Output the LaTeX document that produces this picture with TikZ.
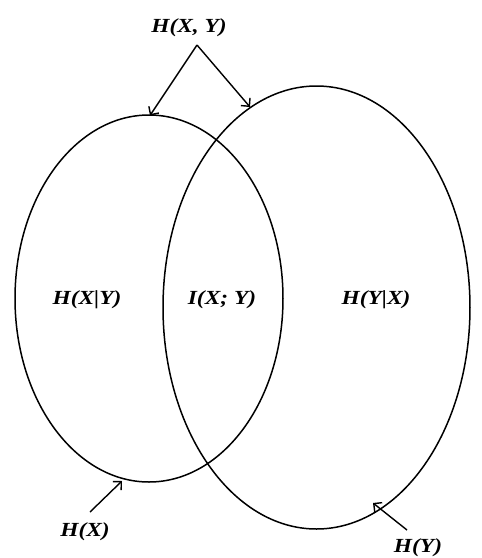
\documentclass[tikz,border=0pt]{standalone}
\usepackage{fontspec}
\setmainfont{Liberation Serif}
\usetikzlibrary{arrows.meta}
\begin{document}
\begin{tikzpicture}[x=1pt,y=-1pt,
  lbl/.style={font=\fontsize{20}{22}\selectfont\bfseries\itshape, inner sep=0pt, xscale=1.17},
  conn/.style={line width=1.4pt, -{Straight Barb[length=6pt,width=12pt]}},
  oval/.style={line width=1.5pt}]
\useasboundingbox (0,0) rectangle (482,558);
\draw[oval] (149,298.5) ellipse [x radius=134, y radius=183.5];
\draw[oval] (316.5,307.5) ellipse [x radius=153.5, y radius=221.5];
\node[lbl] (hxy) at (189,28) {H(X, Y)};
\node[lbl] (hxgy) at (87,300) {H(X|Y)};
\node[lbl] (ixy) at (222,300) {I(X; Y)};
\node[lbl] (hygx) at (376,300) {H(Y|X)};
\node[lbl] (hx) at (85,532) {H(X)};
\node[lbl] (hy) at (418,548) {H(Y)};
\coordinate (apex) at (197,45);
\coordinate (tl) at (150,115.5);
\coordinate (tr) at (250,107);
\coordinate (hxs) at (90,512);
\coordinate (hxt) at (122,481);
\coordinate (hys) at (407,530);
\coordinate (hyt) at (373,503);
\draw[conn] (apex) -- (tl);
\draw[conn] (apex) -- (tr);
\draw[conn] (hxs) -- (hxt);
\draw[conn] (hys) -- (hyt);
\end{tikzpicture}
\end{document}
